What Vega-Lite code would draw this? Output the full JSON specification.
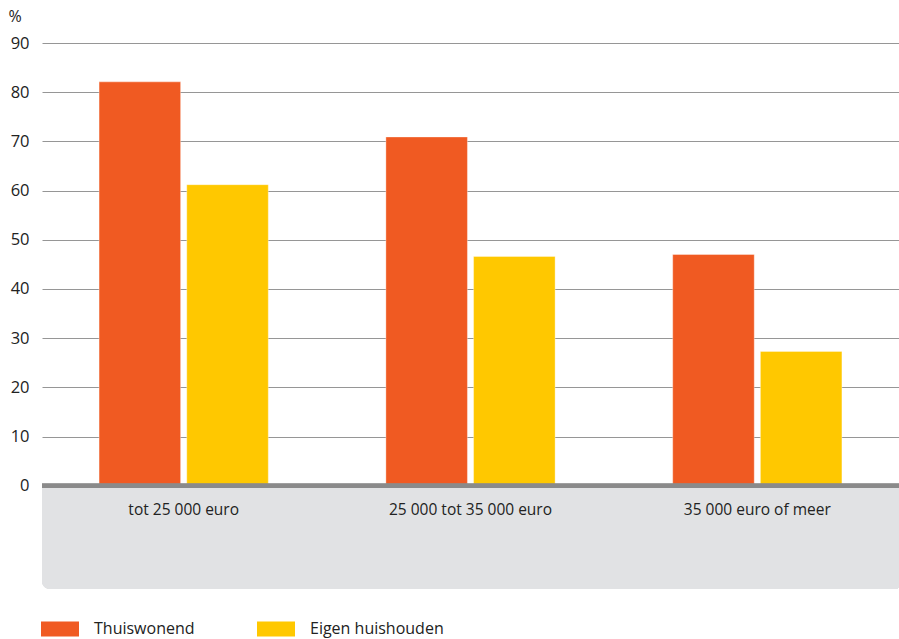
{
  "$schema": "https://vega.github.io/schema/vega-lite/v6.json",
  "width": 857,
  "height": 546,
  "autosize": {"type": "none"},
  "padding": {"left": 42, "top": 43, "right": 0, "bottom": 50},
  "background": "#ffffff",
  "config": {
    "view": {"stroke": null},
    "font": "Open Sans",
    "axis": {"labelFont": "Open Sans", "titleFont": "Open Sans"},
    "legend": {"labelFont": "Open Sans"}
  },
  "data": {
    "values": [
      {"inkomen": "tot 25 000 euro", "groep": "Thuiswonend", "pct": 82.1},
      {"inkomen": "tot 25 000 euro", "groep": "Eigen huishouden", "pct": 61.2},
      {"inkomen": "25 000 tot 35 000 euro", "groep": "Thuiswonend", "pct": 70.9},
      {"inkomen": "25 000 tot 35 000 euro", "groep": "Eigen huishouden", "pct": 46.6},
      {"inkomen": "35 000 euro of meer", "groep": "Thuiswonend", "pct": 47.0},
      {"inkomen": "35 000 euro of meer", "groep": "Eigen huishouden", "pct": 27.3}
    ]
  },
  "layer": [
    {
      "mark": {"type": "rect", "color": "#e1e2e4", "cornerRadiusBottomLeft": 8, "cornerRadiusBottomRight": 3},
      "encoding": {
        "y": {"datum": 0, "type": "quantitative"},
        "y2": {"datum": -21}
      }
    },
    {
      "mark": {"type": "bar", "stroke": "#ffffff", "strokeOpacity": 0.35, "strokeWidth": 1},
      "encoding": {
        "x": {
          "field": "inkomen", "type": "nominal", "sort": null,
          "scale": {"paddingInner": 0.41, "paddingOuter": 0.199},
          "axis": {"title": null, "domain": false, "ticks": false, "labelAngle": 0, "labelPadding": -87, "labelFontSize": 15.5, "labelColor": "#222222", "zindex": 2}
        },
        "xOffset": {"field": "groep", "type": "nominal", "sort": ["Thuiswonend", "Eigen huishouden"], "scale": {"paddingInner": 0.07, "paddingOuter": 0}},
        "y": {
          "field": "pct", "type": "quantitative",
          "scale": {"domain": [-21, 90], "nice": false, "zero": false},
          "axis": {
            "values": [0, 10, 20, 30, 40, 50, 60, 70, 80, 90],
            "title": "%", "titleAngle": 0, "titleAlign": "left", "titleBaseline": "top",
            "titleX": -34, "titleY": -35, "titleFontSize": 16, "titleFontWeight": "normal", "titleColor": "#222222",
            "domain": false, "ticks": false, "grid": true, "gridColor": "#969696", "gridWidth": 1,
            "labelFontSize": 16.5, "labelColor": "#222222", "labelPadding": 13
          }
        },
        "color": {
          "field": "groep", "type": "nominal", "sort": ["Thuiswonend", "Eigen huishouden"],
          "scale": {"domain": ["Thuiswonend", "Eigen huishouden"], "range": ["#f05a22", "#ffc800"]},
          "legend": {
            "title": null, "orient": "none", "direction": "horizontal",
            "legendX": -1, "legendY": 567,
            "symbolType": "M-1,-0.4H1V0.4H-1Z", "symbolSize": 1444, "symbolStrokeWidth": 0, "symbolOpacity": 1,
            "labelFontSize": 16, "labelColor": "#222222", "labelOffset": 15, "columnPadding": 62
          }
        }
      }
    },
    {
      "mark": {"type": "rule", "color": "#8a8a8a", "strokeWidth": 4},
      "encoding": {"y": {"datum": 0, "type": "quantitative"}}
    }
  ]
}
